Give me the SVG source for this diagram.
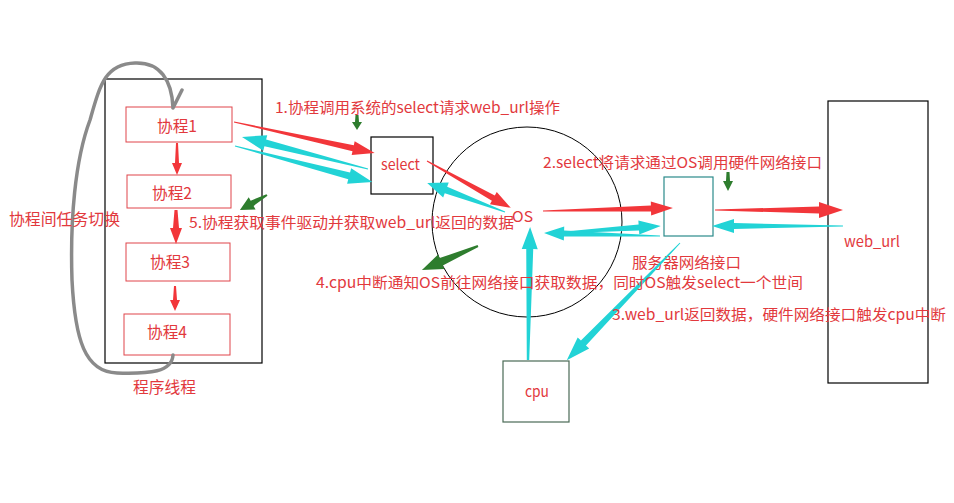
<svg xmlns="http://www.w3.org/2000/svg" width="954" height="503" viewBox="0 0 954 503">
<style>
.t{font-family:"Noto Sans CJK SC","Liberation Sans",sans-serif;fill:#e2393d;}
.s15{font-size:15px;}
.s16{font-size:16px;}
.box{fill:#fff;stroke:#000;stroke-width:1.2;}
.cb{fill:#fff;stroke:#e0454a;stroke-width:1;}
.red{fill:#f2363a;}
.cyan{fill:#22d3d6;}
.green{fill:#2e7d2e;}
</style>
<rect width="954" height="503" fill="#fff"/>
<g id="thread">
<rect class="box" x="105" y="79" width="157" height="284"/>
<text class="t s16" x="133" y="393" textLength="63" lengthAdjust="spacingAndGlyphs">程序线程</text>
</g>
<g id="co1"><rect class="cb" x="126" y="107" width="106" height="35"/><text class="t s16" x="157" y="132" textLength="40" lengthAdjust="spacingAndGlyphs">协程1</text></g>
<g id="co2"><rect class="cb" x="127" y="175" width="104" height="33"/><text class="t s16" x="152" y="199" textLength="40" lengthAdjust="spacingAndGlyphs">协程2</text></g>
<g id="co3"><rect class="cb" x="126" y="243" width="104" height="38"/><text class="t s16" x="150" y="268" textLength="40" lengthAdjust="spacingAndGlyphs">协程3</text></g>
<g id="co4"><rect class="cb" x="124" y="314" width="106" height="41"/><text class="t s16" x="147" y="338" textLength="40" lengthAdjust="spacingAndGlyphs">协程4</text></g>
<g id="select"><rect class="box" x="371" y="137" width="62" height="57"/><text class="t s15" x="381" y="170" textLength="39" lengthAdjust="spacingAndGlyphs">select</text></g>
<g id="os"><circle cx="527" cy="222" r="95" fill="none" stroke="#000" stroke-width="1"/><text class="t s15" x="512" y="222" textLength="21" lengthAdjust="spacingAndGlyphs">OS</text></g>
<g id="nic"><rect x="664" y="177" width="49" height="59" fill="#fff" stroke="#2a8a8a" stroke-width="1.2"/><text class="t s15" x="632" y="268" textLength="109" lengthAdjust="spacingAndGlyphs">服务器网络接口</text></g>
<g id="weburl"><rect class="box" x="828" y="101" width="100" height="282"/><text class="t s15" x="844" y="247" textLength="56" lengthAdjust="spacingAndGlyphs">web_url</text></g>
<g id="cpu"><rect x="503" y="361" width="66" height="61" fill="#fff" stroke="#4a6a55" stroke-width="1.2"/><text class="t s15" x="525" y="397" textLength="24" lengthAdjust="spacingAndGlyphs">cpu</text></g>
<g id="connectors">
<path d="M173,355 C172,372 150,374 117,373 C85,372 75,340 72,280 C70,220 75,160 90,120 C100,85 105,64 135,63 C160,62 172,80 173,108 M182,90 L173,108" fill="none" stroke="#8a8a8a" stroke-width="3.5" stroke-linecap="round" stroke-linejoin="round"/>
<path class="red" transform="translate(177,143) rotate(90)" d="M0,-1 L20,-2 L20,-5 L32,0 L20,5 L20,2 L0,1Z"/>
<path class="red" transform="translate(176,210) rotate(90)" d="M0,-1.5 L18,-3 L18,-6 L34,0 L18,6 L18,3 L0,1.5Z"/>
<path class="red" transform="translate(175,286) rotate(90)" d="M0,-1 L14,-2 L14,-5 L25,0 L14,5 L14,2 L0,1Z"/>
<path class="red" transform="translate(234,122) rotate(12.4)" d="M0,-0.5 L122,-3 L122,-7 L144,0 L122,7 L122,3 L0,0.5Z"/>
<path class="red" transform="translate(427,161) rotate(29.2)" d="M0,-0.5 L76,-3 L76,-7 L96,0 L76,7 L76,3 L0,0.5Z"/>
<path class="red" transform="translate(543,211) rotate(-1.3)" d="M0,-0.5 L108,-3 L108,-7 L130,0 L108,7 L108,3 L0,0.5Z"/>
<path class="red" transform="translate(715,210)" d="M0,-0.5 L104,-3.5 L104,-8 L128,0 L104,8 L104,3.5 L0,0.5Z"/>
<path class="cyan" transform="translate(368,169) rotate(194.25)" d="M0,-0.5 L106,-3.5 L106,-8 L130,0 L106,8 L106,3.5 L0,0.5Z"/>
<path class="cyan" transform="translate(235,146) rotate(14.7)" d="M0,-0.5 L118,-3.5 L118,-8 L142,0 L118,8 L118,3.5 L0,0.5Z"/>
<path class="cyan" transform="translate(505,212) rotate(-159.6)" d="M0,-0.5 L63,-3.5 L63,-8 L83,0 L63,8 L63,3.5 L0,0.5Z"/>
<path class="cyan" transform="translate(555,233) rotate(-3.8)" d="M0,-0.5 L84,-3 L84,-7 L106,0 L84,7 L84,3 L0,0.5Z"/>
<path class="cyan" transform="translate(660,236) rotate(181.5)" d="M0,-0.5 L96,-3 L96,-7 L116,0 L96,7 L96,3 L0,0.5Z"/>
<path class="cyan" transform="translate(843,226) rotate(180)" d="M0,-0.5 L109,-3 L109,-7 L131,0 L109,7 L109,3 L0,0.5Z"/>
<path class="cyan" transform="translate(680,243) rotate(134)" d="M0,-0.5 L139,-3.5 L139,-8 L163,0 L139,8 L139,3.5 L0,0.5Z"/>
<path class="cyan" transform="translate(528,360) rotate(-89.1)" d="M0,-1.2 L111,-3.5 L111,-8 L133,0 L111,8 L111,3.5 L0,1.2Z"/>
<path class="green" transform="translate(357,115) rotate(90)" d="M0,-1.5 L7,-2 L7,-5 L15,0 L7,5 L7,2 L0,1.5Z"/>
<path class="green" transform="translate(267,195) rotate(150.9)" d="M0,-1 L17,-3 L17,-7 L31,0 L17,7 L17,3 L0,1Z"/>
<path class="green" transform="translate(478,246) rotate(156.8)" d="M0,-1 L40,-4 L40,-8 L61,0 L40,8 L40,4 L0,1Z"/>
<path class="green" transform="translate(728,172) rotate(90)" d="M0,-1.5 L9,-2 L9,-5 L19,0 L9,5 L9,2 L0,1.5Z"/>
</g>
<g id="labels">
<text class="t s16" x="9" y="225" textLength="111" lengthAdjust="spacingAndGlyphs">协程间任务切换</text>
<text class="t s15" x="275" y="113" textLength="285" lengthAdjust="spacingAndGlyphs">1.协程调用系统的select请求web_url操作</text>
<text class="t s15" x="543" y="168" textLength="279" lengthAdjust="spacingAndGlyphs">2.select将请求通过OS调用硬件网络接口</text>
<text class="t s15" x="189" y="228" textLength="325" lengthAdjust="spacingAndGlyphs">5.协程获取事件驱动并获取web_url返回的数据</text>
<text class="t s15" x="316" y="288" textLength="487" lengthAdjust="spacingAndGlyphs">4.cpu中断通知OS前往网络接口获取数据，同时OS触发select一个世间</text>
<text class="t s15" x="612" y="320" textLength="334" lengthAdjust="spacingAndGlyphs">3.web_url返回数据，硬件网络接口触发cpu中断</text>
</g>
</svg>
